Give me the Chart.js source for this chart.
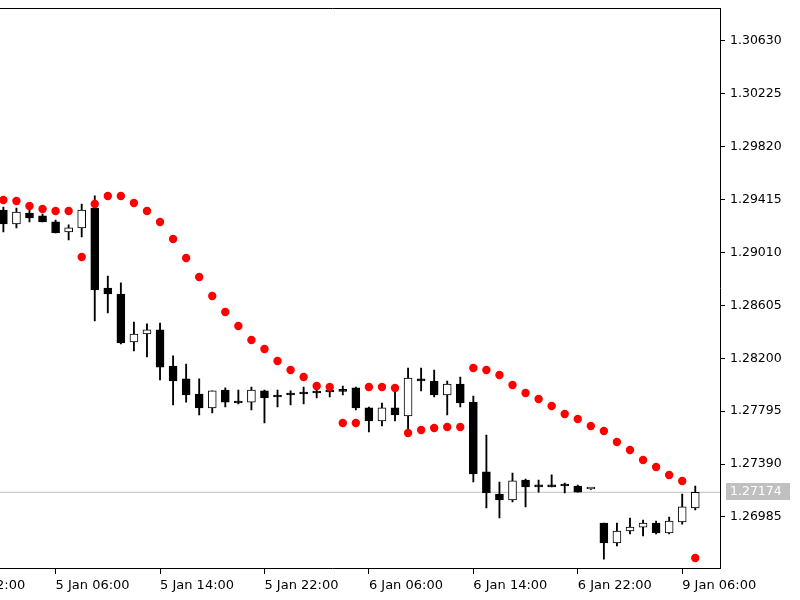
<!DOCTYPE html>
<html>
<head>
<meta charset="utf-8">
<script src="https://cdn.jsdelivr.net/npm/chart.js@4.4.1/dist/chart.umd.min.js"></script>
<style>
  html, body { margin: 0; padding: 0; background: #fff; overflow: hidden; }
  /* canvas starts left of the window so the first date label is cut like in the terminal */
  #wrap { position: absolute; left: -60px; top: 0; width: 860px; height: 600px; }
</style>
</head>
<body>
<div id="wrap"><canvas id="chart" width="860" height="600"></canvas></div>
<script>
// H1 bars, index 0 = 5 Jan 02:00
const opens = [1.29335, 1.29228, 1.29312, 1.29290, 1.29244, 1.29167, 1.29198, 1.29351, 1.28738, 1.28692,
  1.28325, 1.28386, 1.28417, 1.28141, 1.28042, 1.27927, 1.27820, 1.27957, 1.27873, 1.27865,
  1.27950, 1.27911, 1.27927, 1.27934, 1.27942, 1.27950, 1.27950, 1.27973, 1.27820, 1.27720,
  1.27820, 1.27758, 1.28042, 1.28026, 1.27919, 1.28003, 1.27865, 1.27330, 1.27161, 1.27115,
  1.27268, 1.27222, 1.27222, 1.27230, 1.27222, 1.27199, 1.26939, 1.26786, 1.26878, 1.26908,
  1.26939, 1.26863, 1.26947, 1.27054];
const highs = [1.29358, 1.29351, 1.29335, 1.29305, 1.29259, 1.29221, 1.29381, 1.29443, 1.28830, 1.28777,
  1.28478, 1.28463, 1.28470, 1.28218, 1.28156, 1.28042, 1.27950, 1.27973, 1.27957, 1.27980,
  1.27957, 1.27957, 1.27950, 1.27980, 1.27965, 1.27980, 1.27988, 1.27980, 1.27827, 1.27858,
  1.27950, 1.28126, 1.28126, 1.28110, 1.28026, 1.28057, 1.27911, 1.27613, 1.27253, 1.27322,
  1.27276, 1.27268, 1.27307, 1.27245, 1.27230, 1.27200, 1.26939, 1.26939, 1.26977, 1.26962,
  1.26954, 1.26985, 1.27161, 1.27222];
const lows = [1.29167, 1.29198, 1.29244, 1.29244, 1.29159, 1.29106, 1.29129, 1.28486, 1.28547, 1.28310,
  1.28256, 1.28210, 1.28034, 1.27843, 1.27865, 1.27766, 1.27781, 1.27827, 1.27850, 1.27804,
  1.27705, 1.27827, 1.27843, 1.27850, 1.27896, 1.27904, 1.27919, 1.27804, 1.27636, 1.27682,
  1.27720, 1.27613, 1.27950, 1.27904, 1.27766, 1.27827, 1.27253, 1.27054, 1.26977, 1.27100,
  1.27062, 1.27176, 1.27215, 1.27169, 1.27176, 1.27196, 1.26663, 1.26763, 1.26855, 1.26840,
  1.26855, 1.26855, 1.26931, 1.27039];
const closes = [1.29228, 1.29320, 1.29274, 1.29244, 1.29159, 1.29198, 1.29335, 1.28723, 1.28692, 1.28317,
  1.28386, 1.28417, 1.28133, 1.28026, 1.27919, 1.27820, 1.27950, 1.27865, 1.27858, 1.27957,
  1.27896, 1.27904, 1.27919, 1.27927, 1.27934, 1.27942, 1.27947, 1.27820, 1.27720, 1.27820,
  1.27766, 1.28049, 1.28026, 1.27919, 1.28003, 1.27858, 1.27314, 1.27169, 1.27115, 1.27261,
  1.27215, 1.27215, 1.27215, 1.27222, 1.27176, 1.27199, 1.26786, 1.26878, 1.26908, 1.26939,
  1.26863, 1.26954, 1.27062, 1.27174];
// parabolic SAR
const sar = [1.29412, 1.29404, 1.29366, 1.29343, 1.29328, 1.29328, 1.28976, 1.29381, 1.29443, 1.29443,
  1.29389, 1.29328, 1.29244, 1.29113, 1.28968, 1.28822, 1.28677, 1.28555, 1.28447, 1.28340,
  1.28271, 1.28179, 1.28110, 1.28057, 1.27988, 1.27980, 1.27705, 1.27705, 1.27980, 1.27980,
  1.27973, 1.27628, 1.27651, 1.27666, 1.27674, 1.27674, 1.28126, 1.28110, 1.28072, 1.27996,
  1.27934, 1.27888, 1.27835, 1.27774, 1.27735, 1.27682, 1.27643, 1.27559, 1.27498, 1.27421,
  1.27368, 1.27307, 1.27261, 1.26671];
const tickIndex = [-4, 4, 12, 20, 28, 36, 44, 52];
const tickLabels = ['4 Jan 22:00', '5 Jan 06:00', '5 Jan 14:00', '5 Jan 22:00', '6 Jan 06:00', '6 Jan 14:00', '6 Jan 22:00', '9 Jan 06:00'];
const priceTicks = [1.26985, 1.27390, 1.27795, 1.28200, 1.28605, 1.29010, 1.29415, 1.29820, 1.30225, 1.30630];
const lastPrice = 1.27174;

const xMin = -4.533, xMax = 54.895;
const yMin = 1.265945, yMax = 1.308819;
const FAMILY = '"DejaVu Sans", Verdana, sans-serif';

// grey box with the last price on the price axis
const lastPriceTag = {
  id: 'lastPriceTag',
  afterDraw(chart) {
    const { ctx, chartArea, scales } = chart;
    const y = scales.y.getPixelForValue(lastPrice);
    ctx.save();
    ctx.fillStyle = '#c0c0c0';
    ctx.fillRect(chartArea.right + 6, Math.round(y) - 9, 64, 17);
    ctx.fillStyle = '#ffffff';
    ctx.font = '12.5px ' + FAMILY;
    ctx.textBaseline = 'middle';
    ctx.fillText(lastPrice.toFixed(5), chartArea.right + 10, Math.round(y));
    ctx.restore();
  }
};

const candleColors = closes.map((c, i) => c >= opens[i] ? '#ffffff' : '#000000');

new Chart(document.getElementById('chart'), {
  type: 'bar',
  data: {
    datasets: [
      {
        type: 'line',
        data: [{ x: xMin, y: lastPrice }, { x: xMax, y: lastPrice }],
        borderColor: '#c0c0c0',
        borderWidth: 1,
        pointRadius: 0,
        order: 5
      },
      {
        // wicks
        data: lows.map((l, i) => ({ x: i, y: [l, highs[i]] })),
        backgroundColor: '#000000',
        borderWidth: 0,
        barThickness: 1.2,
        grouped: false,
        order: 4
      },
      {
        // bodies
        data: opens.map((o, i) => ({ x: i, y: [o, closes[i]] })),
        backgroundColor: candleColors,
        borderColor: '#000000',
        borderWidth: 1,
        borderSkipped: false,
        barThickness: 8,
        minBarLength: 2,
        grouped: false,
        order: 3
      },
      {
        type: 'line',
        data: sar.map((v, i) => ({ x: i, y: v })),
        showLine: false,
        pointRadius: 4.2,
        pointBackgroundColor: '#ff0000',
        pointBorderWidth: 0,
        order: 1
      }
    ]
  },
  options: {
    responsive: false,
    animation: false,
    layout: { padding: { top: 8, left: 0, right: 0, bottom: 0 } },
    plugins: { legend: { display: false }, tooltip: { enabled: false } },
    scales: {
      x: {
        type: 'linear',
        position: 'bottom',
        min: xMin,
        max: xMax,
        offset: false,
        grid: { drawOnChartArea: false, drawTicks: true, tickLength: 6, color: '#000000', offset: false },
        border: { display: true, color: '#000000' },
        ticks: {
          autoSkip: false,
          maxRotation: 0,
          align: 'start',
          padding: 4,
          color: '#000000',
          font: { family: FAMILY, size: 13 },
          callback: (v) => tickLabels[tickIndex.indexOf(v)]
        },
        afterBuildTicks: (scale) => { scale.ticks = tickIndex.map(v => ({ value: v })); },
        afterFit: (scale) => { scale.height = 32; scale.paddingLeft = 0; scale.paddingRight = 0; }
      },
      xTop: {
        type: 'linear',
        position: 'top',
        min: xMin,
        max: xMax,
        grid: { display: false, drawTicks: false },
        border: { display: true, color: '#000000' },
        ticks: { display: false },
        afterFit: (scale) => { scale.height = 0; }
      },
      y: {
        type: 'linear',
        position: 'right',
        min: yMin,
        max: yMax,
        grid: { drawOnChartArea: false, drawTicks: true, tickLength: 5, color: '#000000' },
        border: { display: true, color: '#000000' },
        ticks: {
          padding: 5,
          color: '#000000',
          font: { family: FAMILY, size: 12.5 },
          callback: (v) => v.toFixed(5)
        },
        afterBuildTicks: (scale) => { scale.ticks = priceTicks.map(v => ({ value: v })); },
        afterFit: (scale) => { scale.width = 80; scale.paddingTop = 0; scale.paddingBottom = 0; }
      }
    }
  },
  plugins: [lastPriceTag]
});
</script>
</body>
</html>
